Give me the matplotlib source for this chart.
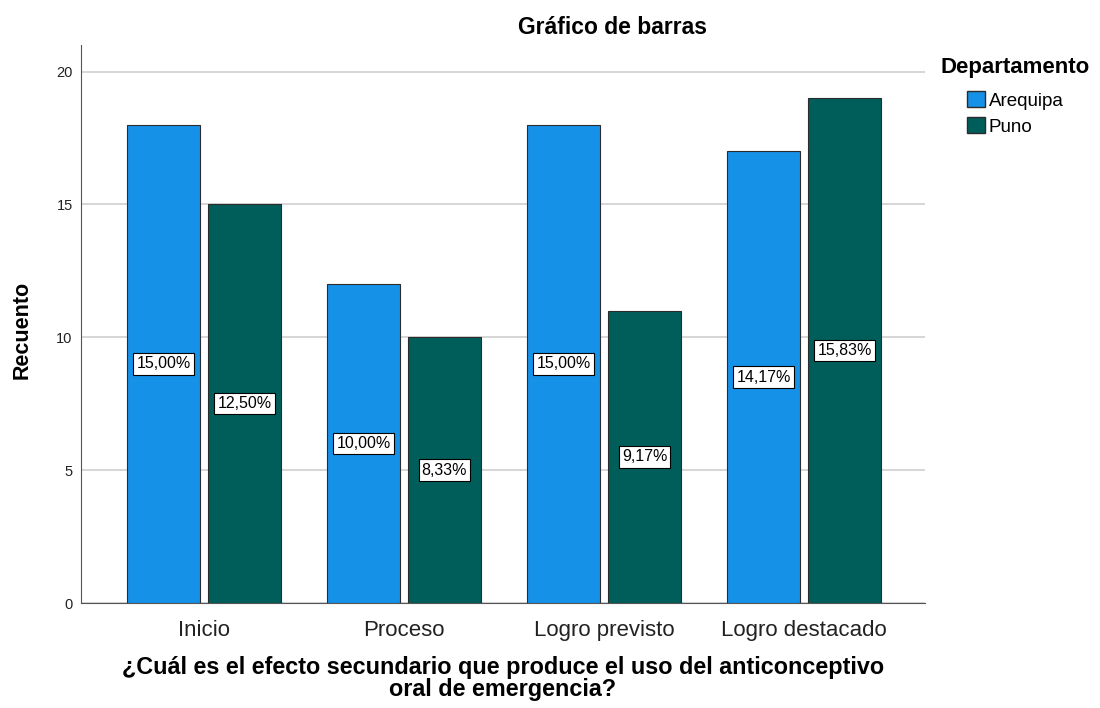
import numpy as np
import matplotlib.pyplot as plt
from matplotlib.patches import Patch

plt.rcParams['font.family'] = ['Liberation Sans', 'DejaVu Sans']

# Datos
categorias = ['Inicio', 'Proceso', 'Logro previsto', 'Logro destacado']
arequipa = [18, 12, 18, 17]
puno = [15, 10, 11, 19]
total = 120
series = ['Arequipa', 'Puno']
colores = ['#1691E8', '#005E5A']

fig = plt.figure(figsize=(11, 7.08), dpi=100)
ax = fig.add_axes([0.0736, 0.1483, 0.7673, 0.7881])

x = np.arange(len(categorias))
ancho = 0.365
desp = 0.2025

for valores, d, c in zip([arequipa, puno], [-desp, desp], colores):
    barras = ax.bar(x + d, valores, width=ancho, color=c, edgecolor='#2b2b2b',
                    linewidth=0.8, zorder=3)
    for b, v in zip(barras, valores):
        ax.text(b.get_x() + b.get_width() / 2, v / 2,
                f'{v / total * 100:.2f}%'.replace('.', ','),
                ha='center', va='center', fontsize=11.5, zorder=4,
                bbox=dict(boxstyle='square,pad=0.2', fc='white', ec='black', lw=0.8))

ax.set_xlim(-0.615, 3.605)
ax.set_ylim(0, 21)
ax.set_yticks([0, 5, 10, 15, 20])
ax.yaxis.grid(True, color='#d0d0d0', linewidth=1.2, zorder=0)
ax.set_xticks(x)
ax.set_xticklabels(categorias, fontsize=16)
ax.tick_params(axis='y', labelsize=10.5, length=0, pad=6, labelcolor='#222222')
ax.tick_params(axis='x', length=0, pad=12, labelcolor='#222222')
for s in ['top', 'right']:
    ax.spines[s].set_visible(False)
for s in ['left', 'bottom']:
    ax.spines[s].set_color('#555555')

ax.set_ylabel('Recuento', fontsize=15.5, fontweight='bold', va='center')
ax.yaxis.set_label_coords(-0.0699, 0.49)
ax.set_xlabel('¿Cuál es el efecto secundario que produce el uso del anticonceptivo\noral de emergencia?',
              fontsize=16.8, fontweight='bold', linespacing=0.95)
ax.xaxis.set_label_coords(0.5, -0.095)

fig.text(613 / 1100, 1 - 28 / 708, 'Gráfico de barras', fontsize=16.5,
         fontweight='bold', ha='center', va='center')
fig.text(940 / 1100, 1 - 68 / 708, 'Departamento', fontsize=16,
         fontweight='bold', ha='left', va='center')

handles = [Patch(facecolor=c, edgecolor='#2b2b2b', label=s) for s, c in zip(series, colores)]
fig.legend(handles=handles, loc='upper left', bbox_to_anchor=(967 / 1100, 1 - 91 / 708),
           frameon=False, fontsize=13.5, borderpad=0, borderaxespad=0,
           handlelength=0.95, handleheight=0.95, handletextpad=0.2,
           labelspacing=0.4)

plt.savefig('out.png', dpi=100)
plt.close()
